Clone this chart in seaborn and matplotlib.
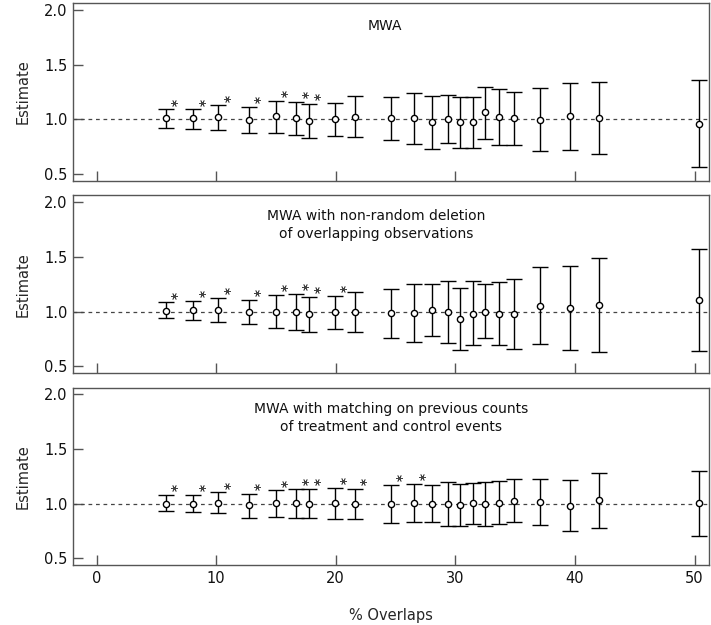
import pandas as pd
import numpy as np
import matplotlib.pyplot as plt
import seaborn as sns

# % overlaps (shared by all three panels)
overlaps = [5.79, 8.08, 10.17, 12.71, 14.97, 16.69, 17.75, 19.9, 21.6, 24.6, 26.55,
            28.04, 29.4, 30.37, 31.49, 32.49, 33.66, 34.89, 37.04, 39.57, 41.99, 50.39]

titles = ["MWA",
          "MWA with non-random deletion\nof overlapping observations",
          "MWA with matching on previous counts\nof treatment and control events"]

# panel 1: MWA
est1 = [1.01, 1.01, 1.024, 0.994, 1.03, 1.015, 0.988, 1.0, 1.024, 1.014, 1.01,
        0.978, 1.006, 0.976, 0.976, 1.064, 1.024, 1.01, 0.996, 1.027, 1.01, 0.96]
lo1 = [0.926, 0.913, 0.902, 0.874, 0.88, 0.86, 0.834, 0.85, 0.835, 0.81, 0.773,
       0.734, 0.789, 0.74, 0.743, 0.82, 0.77, 0.764, 0.71, 0.72, 0.68, 0.562]
hi1 = [1.094, 1.094, 1.13, 1.116, 1.17, 1.16, 1.14, 1.15, 1.21, 1.207, 1.244,
       1.217, 1.22, 1.207, 1.20, 1.30, 1.275, 1.248, 1.284, 1.33, 1.34, 1.36]
sig1 = [1, 1, 1, 1, 1, 1, 1, 0, 0, 0, 0, 0, 0, 0, 0, 0, 0, 0, 0, 0, 0, 0]

# panel 2: non-random deletion
est2 = [1.009, 1.015, 1.015, 0.994, 1.0, 0.994, 0.979, 0.994, 0.994, 0.986, 0.988,
        1.012, 1.0, 0.933, 0.982, 1.0, 0.982, 0.982, 1.055, 1.036, 1.058, 1.107]
lo2 = [0.945, 0.924, 0.909, 0.89, 0.854, 0.833, 0.817, 0.836, 0.811, 0.76, 0.72,
       0.778, 0.717, 0.647, 0.69, 0.756, 0.692, 0.662, 0.70, 0.647, 0.626, 0.64]
hi2 = [1.085, 1.10, 1.125, 1.107, 1.152, 1.16, 1.137, 1.146, 1.177, 1.21, 1.253,
       1.253, 1.283, 1.216, 1.28, 1.247, 1.274, 1.295, 1.41, 1.42, 1.49, 1.57]
sig2 = [1, 1, 1, 1, 1, 1, 1, 1, 0, 0, 0, 0, 0, 0, 0, 0, 0, 0, 0, 0, 0, 0]

# panel 3: matching on previous counts
est3 = [1.0, 1.0, 1.009, 0.984, 1.003, 1.003, 1.0, 1.003, 1.0, 0.994, 1.006,
        1.0, 1.0, 0.99, 1.003, 0.997, 1.006, 1.027, 1.018, 0.979, 1.03, 1.006]
lo3 = [0.936, 0.92, 0.918, 0.872, 0.88, 0.872, 0.869, 0.863, 0.857, 0.823, 0.832,
       0.832, 0.80, 0.793, 0.817, 0.80, 0.81, 0.832, 0.808, 0.747, 0.78, 0.708]
hi3 = [1.082, 1.082, 1.103, 1.091, 1.124, 1.137, 1.137, 1.146, 1.137, 1.173, 1.183,
       1.167, 1.198, 1.183, 1.192, 1.198, 1.204, 1.222, 1.225, 1.213, 1.28, 1.30]
sig3 = [1, 1, 1, 1, 1, 1, 1, 1, 1, 1, 1, 0, 0, 0, 0, 0, 0, 0, 0, 0, 0, 0]

panels = [(est1, lo1, hi1, sig1), (est2, lo2, hi2, sig2), (est3, lo3, hi3, sig3)]
title_x = [0.49, 0.476, 0.50]
title_y = [0.872, 0.833, 0.827]

sns.set_style("ticks")
plt.rcParams["font.family"] = ["DejaVu Sans"]

fig, axes = plt.subplots(3, 1, figsize=(7.11, 6.25), dpi=100)
fig.subplots_adjust(left=0.103, right=0.997, top=0.9947, bottom=0.096, hspace=0.083)

for i, ax in enumerate(axes):
    est, lo, hi, sig = panels[i]
    df = pd.DataFrame({"x": overlaps, "est": est, "lo": lo, "hi": hi, "sig": sig})

    ax.axhline(1.0, color="#444444", lw=0.9, ls=(0, (3, 3)), zorder=1)
    ax.errorbar(df["x"], df["est"],
                yerr=[df["est"] - df["lo"], df["hi"] - df["est"]],
                fmt="none", ecolor="black", elinewidth=1.0, capsize=6, capthick=1.0, zorder=2)
    sns.scatterplot(data=df, x="x", y="est", ax=ax, marker="o", s=20,
                    facecolor="white", edgecolor="black", linewidth=1.0, zorder=3)

    # significance asterisks
    stars = df[df["sig"] == 1]
    sns.scatterplot(x=stars["x"] + 0.7, y=stars["hi"] + 0.06, ax=ax,
                    marker=(6, 2, 90), s=20, color="#444444", linewidth=0.6, zorder=3)

    ax.text(title_x[i], title_y[i], titles[i], transform=ax.transAxes,
            ha="center", va="center", fontsize=10, linespacing=1.35, color="#111111")

    ax.set_xlim(-1.95, 51.2)
    ax.set_ylim(0.44, 2.06)
    ax.set_yticks([0.5, 1.0, 1.5, 2.0])
    ax.set_yticklabels(["0.5", "1.0", "1.5", "2.0"])
    ax.set_xticks([0, 10, 20, 30, 40, 50])
    ax.tick_params(direction="in", length=7, width=1, colors="#555555",
                   labelcolor="#111111", labelsize=10.5, pad=4)
    ax.set_ylabel("Estimate", fontsize=10.5, labelpad=10)
    ax.set_xlabel("")
    for s in ax.spines.values():
        s.set_color("#555555")
        s.set_linewidth(1.0)
    if i < 2:
        ax.tick_params(labelbottom=False)

axes[2].set_xlabel("% Overlaps", fontsize=10.5, labelpad=16)

plt.savefig("out.png", dpi=100)
